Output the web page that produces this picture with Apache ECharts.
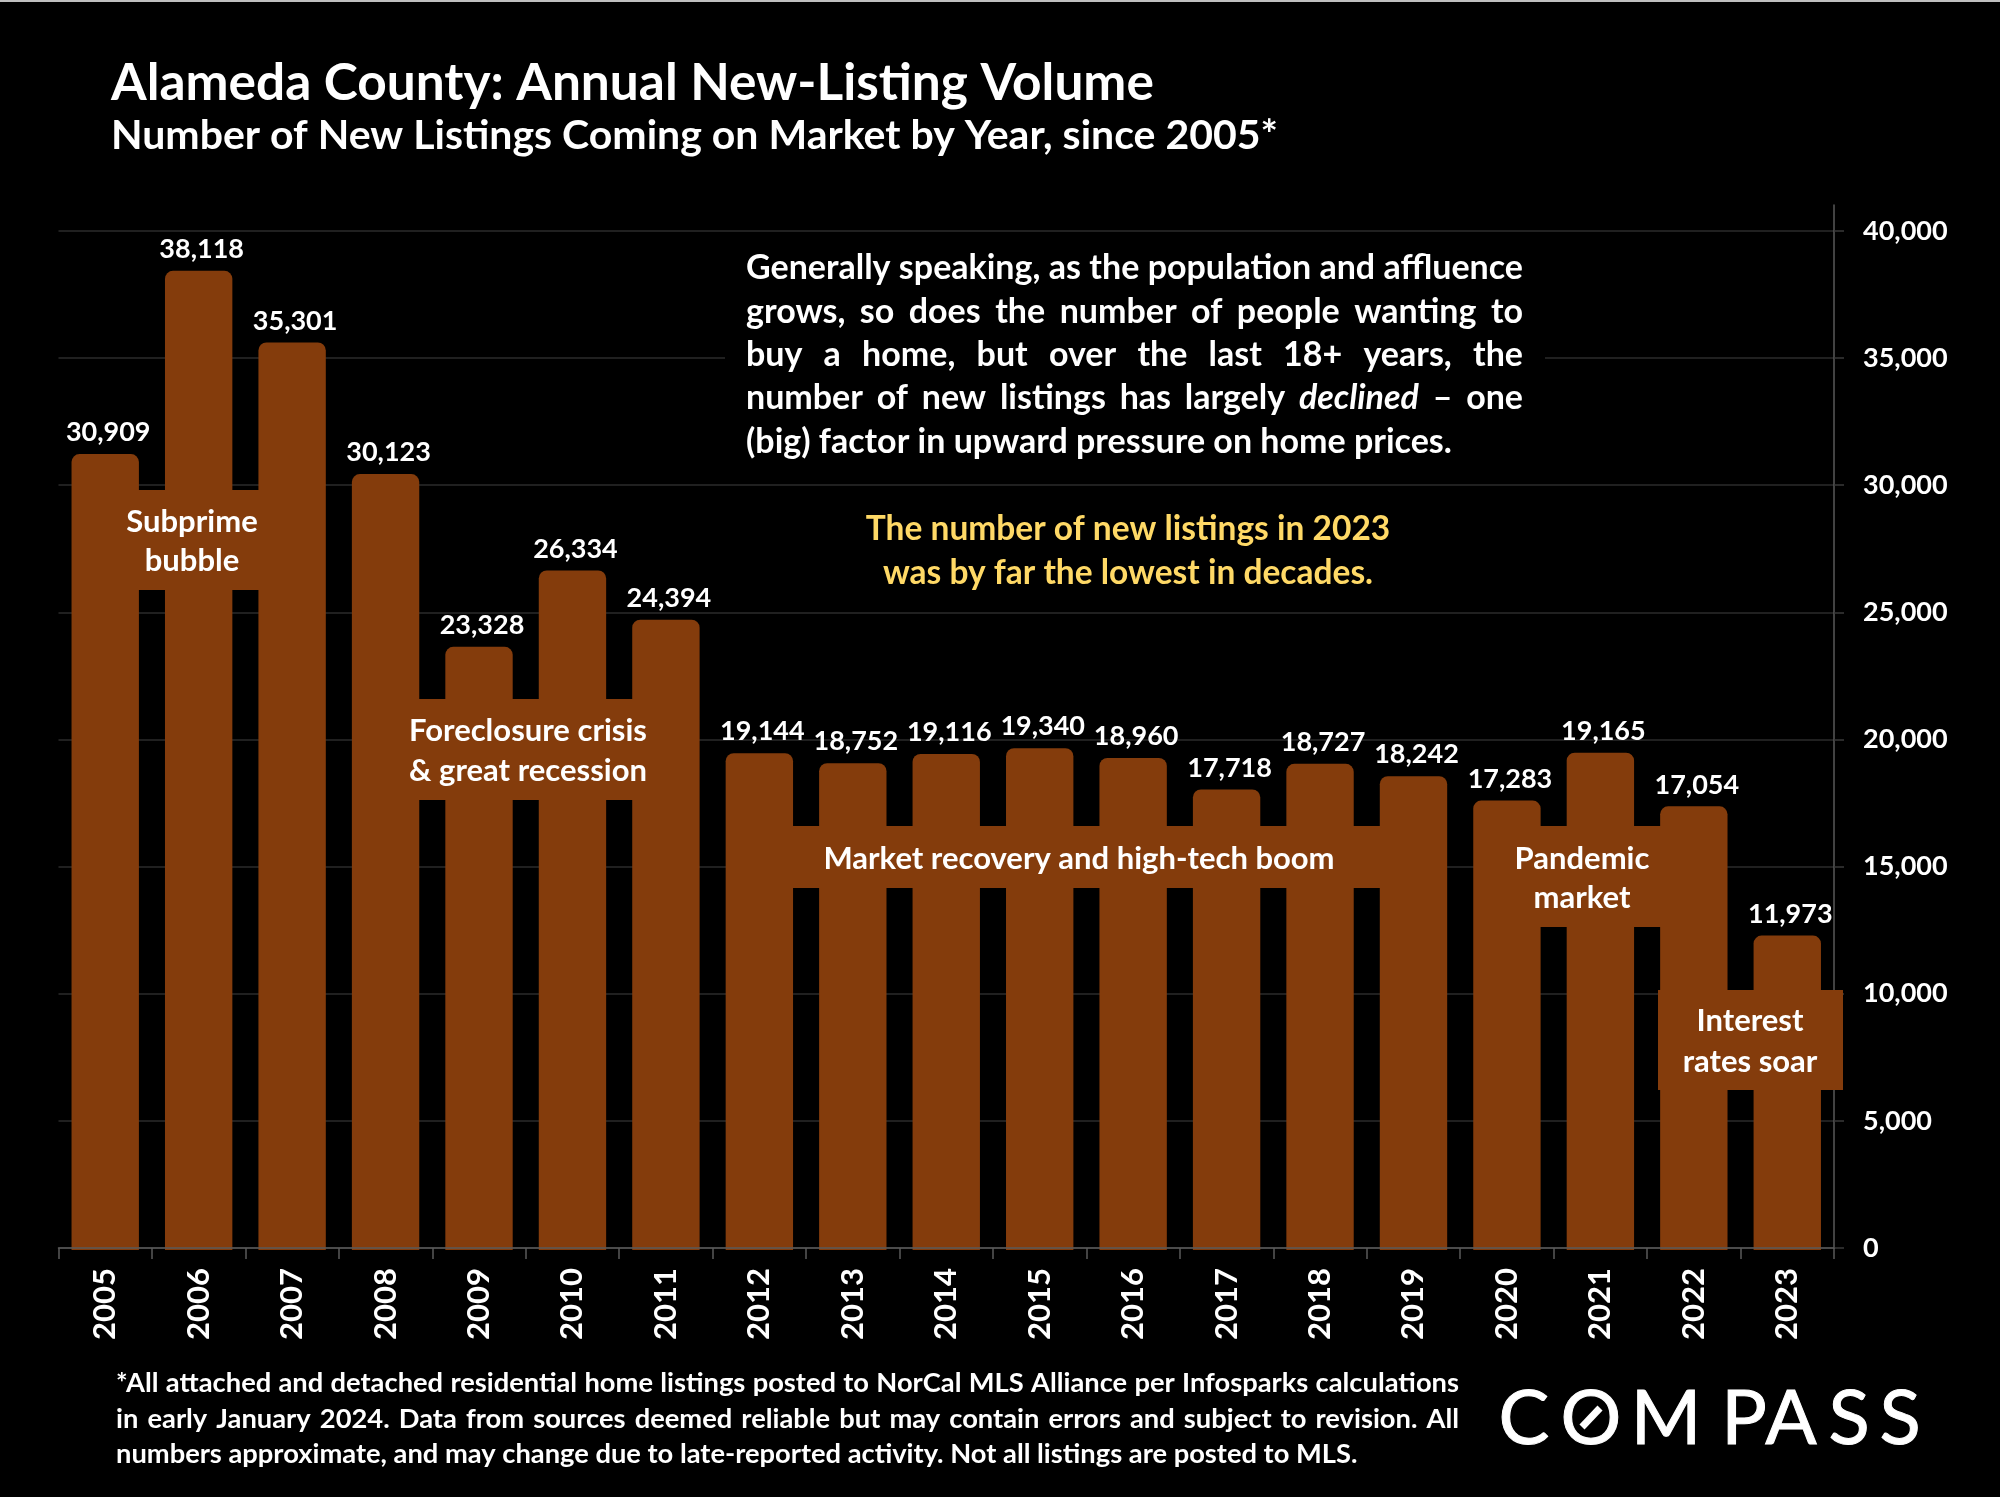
<!DOCTYPE html>
<html>
<head>
<meta charset="utf-8">
<title>Alameda County: Annual New-Listing Volume</title>
<script src="https://cdn.jsdelivr.net/npm/echarts@6/dist/echarts.min.js"></script>
<style>
html,body{margin:0;padding:0;background:#000;}
#chart{width:2000px;height:1497px;}
</style>
</head>
<body>
<div id="chart"></div>
<script>
var years = ['2005','2006','2007','2008','2009','2010','2011','2012','2013','2014','2015','2016','2017','2018','2019','2020','2021','2022','2023'];
var newListings = [30909,38118,35301,30123,23328,26334,24394,19144,18752,19116,19340,18960,17718,18727,18242,17283,19165,17054,11973];
var yTicks = [0,5000,10000,15000,20000,25000,30000,35000,40000];

var titleText = 'Alameda County: Annual New-Listing Volume';
var subtitleText = 'Number of New Listings Coming on Market by Year, since 2005*';
var bodyLines = [
    'Generally speaking, as the population and affluence',
    'grows, so does the number of people wanting to',
    'buy a home, but over the last 18+ years, the',
    'number of new listings has largely *declined* \u2013 one',
    '(big) factor in upward pressure on home prices.'
];
var highlightLines = ['The number of new listings in 2023', 'was by far the lowest in decades.'];
var noteLines = [
    '*All attached and detached residential home listings posted to NorCal MLS Alliance per Infosparks calculations',
    'in early January 2024. Data from sources deemed reliable but may contain errors and subject to revision. All',
    'numbers approximate, and may change due to late-reported activity. Not all listings are posted to MLS.'
];

var BAR = '#843C0C';
var FONT = 'Lato';
var ctx = document.createElement('canvas').getContext('2d');
var g = [];

function fmt(v){ return v.toString().replace(/\B(?=(\d{3})+$)/g, ','); }

// draws one line of text, y is the baseline
function txt(s, x, y, size, opt){
    opt = opt || {};
    var style = {
        text:s, fill:opt.fill || '#fff', align:opt.align || 'left', verticalAlign:'middle',
        fontFamily:FONT, fontSize:size, fontWeight:opt.weight || 'bold', fontStyle:opt.italic ? 'italic' : 'normal'
    };
    if(opt.stroke){ style.stroke = opt.fill || '#fff'; style.lineWidth = opt.stroke; }
    g.push({type:'text', x:x, y:y - size*0.34, z:opt.z || 6, style:style});
}

// justified line, word by word. *word* is italic
function justify(line, x0, x1, size, stretch){
    var words = line.split(' ').map(function(w){
        var it = w.charAt(0) == '*' && w.length > 2 && w.charAt(w.length-1) == '*';
        return {t: it ? w.slice(1,-1) : w, it: it};
    });
    var total = 0;
    words.forEach(function(w){
        ctx.font = (w.it ? 'italic ' : '') + 'bold ' + size + 'px ' + FONT;
        w.w = ctx.measureText(w.t).width;
        total += w.w;
    });
    ctx.font = 'bold ' + size + 'px ' + FONT;
    var gap = stretch ? (x1 - x0 - total) / (words.length - 1) : ctx.measureText(' ').width;
    return {words:words, gap:gap};
}
function block(lines, x0, x1, ys, size, lastFree){
    lines.forEach(function(line, i){
        var j = justify(line, x0, x1, size, !(lastFree && i == lines.length-1));
        var x = x0;
        j.words.forEach(function(w){
            txt(w.t, x, ys[i], size, {italic:w.it});
            x += w.w + j.gap;
        });
    });
}
function box(x, y, w, h, fill, z){
    g.push({type:'rect', z:z, shape:{x:x,y:y,width:w,height:h}, style:{fill:fill}});
}

// top edge line of the slide
box(0, 0, 2000, 2, '#bfbfbf', 6);

txt(titleText, 111, 100.5, 51.4);
txt(subtitleText, 111, 150, 41);

// black panel behind the paragraph, breaks the 35,000 gridline
box(725, 335, 820, 50, '#000', 1);
block(bodyLines, 746, 1523, [280,324,367,410,454], 34, true);
highlightLines.forEach(function(s, i){
    txt(s, 1128, [540.5,584.5][i], 33.5, {fill:'#FFD966', align:'center'});
});

// period callouts
box(130, 490, 140, 100, BAR, 5);
txt('Subprime', 192, 532.5, 31, {align:'center'});
txt('bubble', 192, 571.5, 31, {align:'center'});
box(400, 699, 250, 101, BAR, 5);
txt('Foreclosure crisis', 528, 742, 31, {align:'center'});
txt('& great recession', 528, 782, 31, {align:'center'});
box(780, 826, 660, 62, BAR, 5);
txt('Market recovery and high-tech boom', 1079, 870, 31, {align:'center'});
box(1530, 826, 140, 101, BAR, 5);
txt('Pandemic', 1582, 870, 31, {align:'center'});
txt('market', 1582, 909, 31, {align:'center'});
box(1658, 990, 185, 100, BAR, 5);
txt('Interest', 1750, 1032, 31, {align:'center'});
txt('rates soar', 1750, 1072.5, 31, {align:'center'});

block(noteLines, 116, 1459, [1392,1428,1463], 27.3, true);

// logo
[['C',1524],['O',1591],['M',1666],['P',1744],['A',1791],['S',1849],['S',1900]].forEach(function(l){
    txt(l[0], l[1], 1445, 76, {align:'center', weight:'normal', stroke:1});
});
g.push({type:'line', z:6, shape:{x1:1582,y1:1427,x2:1600,y2:1408}, style:{stroke:'#fff', lineWidth:7}});

// bars stand a little proud of their value in the original, with round shoulders
function drawBar(params, api){
    var i = api.value(0), v = api.value(1);
    var top = api.coord([i, v]);
    var base = api.coord([i, 0]);
    var w = api.size([1, 0])[0] * 0.721;
    return {
        type:'rect',
        shape:{x:top[0]-w/2, y:top[1]-8, width:w, height:base[1]-top[1]+10, r:[8,8,0,0]},
        style:{fill:BAR},
        textContent:{style:{text:fmt(v), fill:'#fff', fontFamily:FONT, fontWeight:'bold', fontSize:27}},
        textConfig:{position:'top', distance:8, offset:[3,0]}
    };
}

var myChart = echarts.init(document.getElementById('chart'));
myChart.setOption({
    backgroundColor:'#000',
    animation:false,
    grid:{left:58.5, right:166, top:205, bottom:249},
    xAxis:{
        type:'category', data:years, z:4,
        axisLine:{lineStyle:{color:'#595959', width:1.5}},
        axisTick:{show:true, alignWithLabel:false, length:11, lineStyle:{color:'#595959', width:1.5}},
        axisLabel:{rotate:90, margin:20, padding:[5,0,0,0], color:'#fff', fontFamily:FONT, fontWeight:'bold', fontSize:31}
    },
    yAxis:{
        type:'value', position:'right', min:0, max:41020, interval:5000, z:0,
        axisLine:{show:true, lineStyle:{color:'#595959', width:1.5}},
        axisTick:{show:true, length:10, customValues:yTicks, lineStyle:{color:'#3a3a3a', width:1.5}},
        axisLabel:{margin:29, color:'#fff', fontFamily:FONT, fontWeight:'bold', fontSize:27, customValues:yTicks, formatter:function(v){ return fmt(v); }},
        splitLine:{show:true, lineStyle:{color:'#2b2b2b', width:1.5}}
    },
    series:[{
        type:'custom', z:2, clip:false,
        data:newListings.map(function(v, i){ return [i, v]; }),
        encode:{x:0, y:1},
        renderItem:drawBar
    }],
    graphic:{elements:g}
});
</script>
</body>
</html>
